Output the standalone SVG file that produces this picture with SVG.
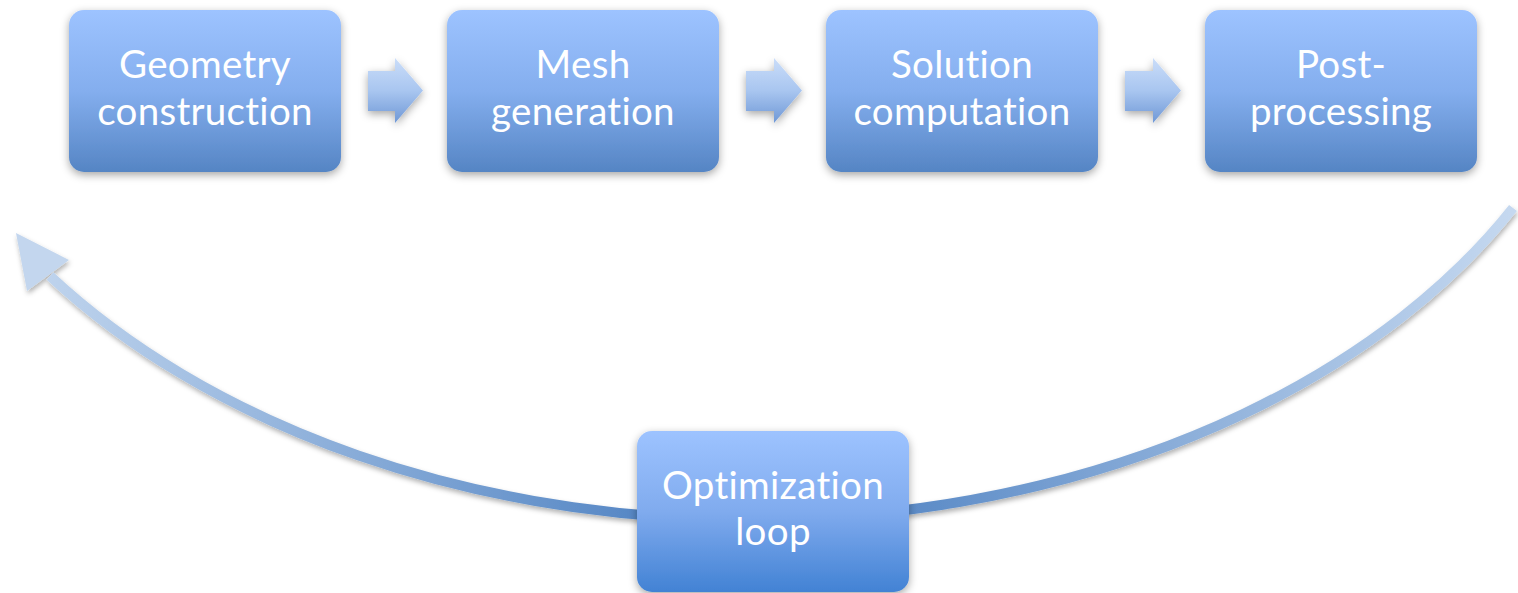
<svg xmlns="http://www.w3.org/2000/svg" width="1518" height="593" viewBox="0 0 1518 593">
  <defs>
    <linearGradient id="boxFill" x1="0" y1="0" x2="0" y2="1">
      <stop offset="0" stop-color="#9DC3FF"/>
      <stop offset="0.5" stop-color="#84AEEE"/>
      <stop offset="1" stop-color="#5585C4"/>
    </linearGradient>
    <linearGradient id="loopFill" x1="0" y1="0" x2="0" y2="1">
      <stop offset="0" stop-color="#9DC3FF"/>
      <stop offset="0.5" stop-color="#80ABEE"/>
      <stop offset="1" stop-color="#4282D4"/>
    </linearGradient>
    <linearGradient id="stepFill" x1="0" y1="0" x2="0" y2="1">
      <stop offset="0" stop-color="#CADDF9"/>
      <stop offset="0.5" stop-color="#A9C6F0"/>
      <stop offset="1" stop-color="#6F98D6"/>
    </linearGradient>
    <linearGradient id="loopStroke" gradientUnits="userSpaceOnUse" x1="0" y1="0" x2="1518" y2="0">
      <stop offset="0" stop-color="#C6D9F0"/>
      <stop offset="0.45" stop-color="#4F82C2"/>
      <stop offset="0.55" stop-color="#4F82C2"/>
      <stop offset="1" stop-color="#C6D9F0"/>
    </linearGradient>
    <filter id="shadow" x="-20%" y="-20%" width="140%" height="150%">
      <feDropShadow dx="0" dy="3" stdDeviation="4" flood-color="#000" flood-opacity="0.35"/>
    </filter>
    <filter id="lineShadow" x="-10%" y="-20%" width="120%" height="150%">
      <feDropShadow dx="1" dy="3" stdDeviation="2.5" flood-color="#000" flood-opacity="0.3"/>
    </filter>
  </defs>
  <style>
    .box { fill: url(#boxFill); filter: url(#shadow); }
    .label { fill: #FFFFFF; font-family: Lato, "Open Sans", sans-serif; font-size: 38.5px; letter-spacing: 0.3px; text-anchor: middle; font-variant-ligatures: none; }
    .step { fill: url(#stepFill); filter: url(#shadow); }
  </style>

  <g id="connectors">
    <!-- return loop from post-processing back to geometry -->
    <g filter="url(#lineShadow)">
      <path d="M1513,208 A870,600 0 0 1 50,276" fill="none" stroke="url(#loopStroke)" stroke-width="10"/>
      <polygon points="16,233 69,260 27,291" fill="#C3D6EE"/>
    </g>
    <!-- step arrows between stages -->
    <polygon class="step" points="368,71 395,71 395,58 423,90.5 395,123 395,111 368,111"/>
    <polygon class="step" points="746,71 774,71 774,58 802,90.5 774,123 774,111 746,111"/>
    <polygon class="step" points="1125,71 1153,71 1153,58 1181,90.5 1153,123 1153,111 1125,111"/>
  </g>

  <g id="geometry">
    <rect class="box" x="69" y="10" width="272" height="162" rx="15"/>
    <text class="label" x="205" y="78">Geometry</text>
    <text class="label" x="205" y="125">construction</text>
  </g>
  <g id="mesh">
    <rect class="box" x="447" y="10" width="272" height="162" rx="15"/>
    <text class="label" x="583" y="78">Mesh</text>
    <text class="label" x="583" y="125">generation</text>
  </g>
  <g id="solution">
    <rect class="box" x="826" y="10" width="272" height="162" rx="15"/>
    <text class="label" x="962" y="78">Solution</text>
    <text class="label" x="962" y="125">computation</text>
  </g>
  <g id="postprocessing">
    <rect class="box" x="1205" y="10" width="272" height="162" rx="15"/>
    <text class="label" x="1341" y="78">Post-</text>
    <text class="label" x="1341" y="125">processing</text>
  </g>
  <g id="optimization">
    <rect class="box" x="637" y="431" width="272" height="161" rx="15" style="fill:url(#loopFill)"/>
    <text class="label" x="773" y="499">Optimization</text>
    <text class="label" x="773" y="545">loop</text>
  </g>
</svg>
